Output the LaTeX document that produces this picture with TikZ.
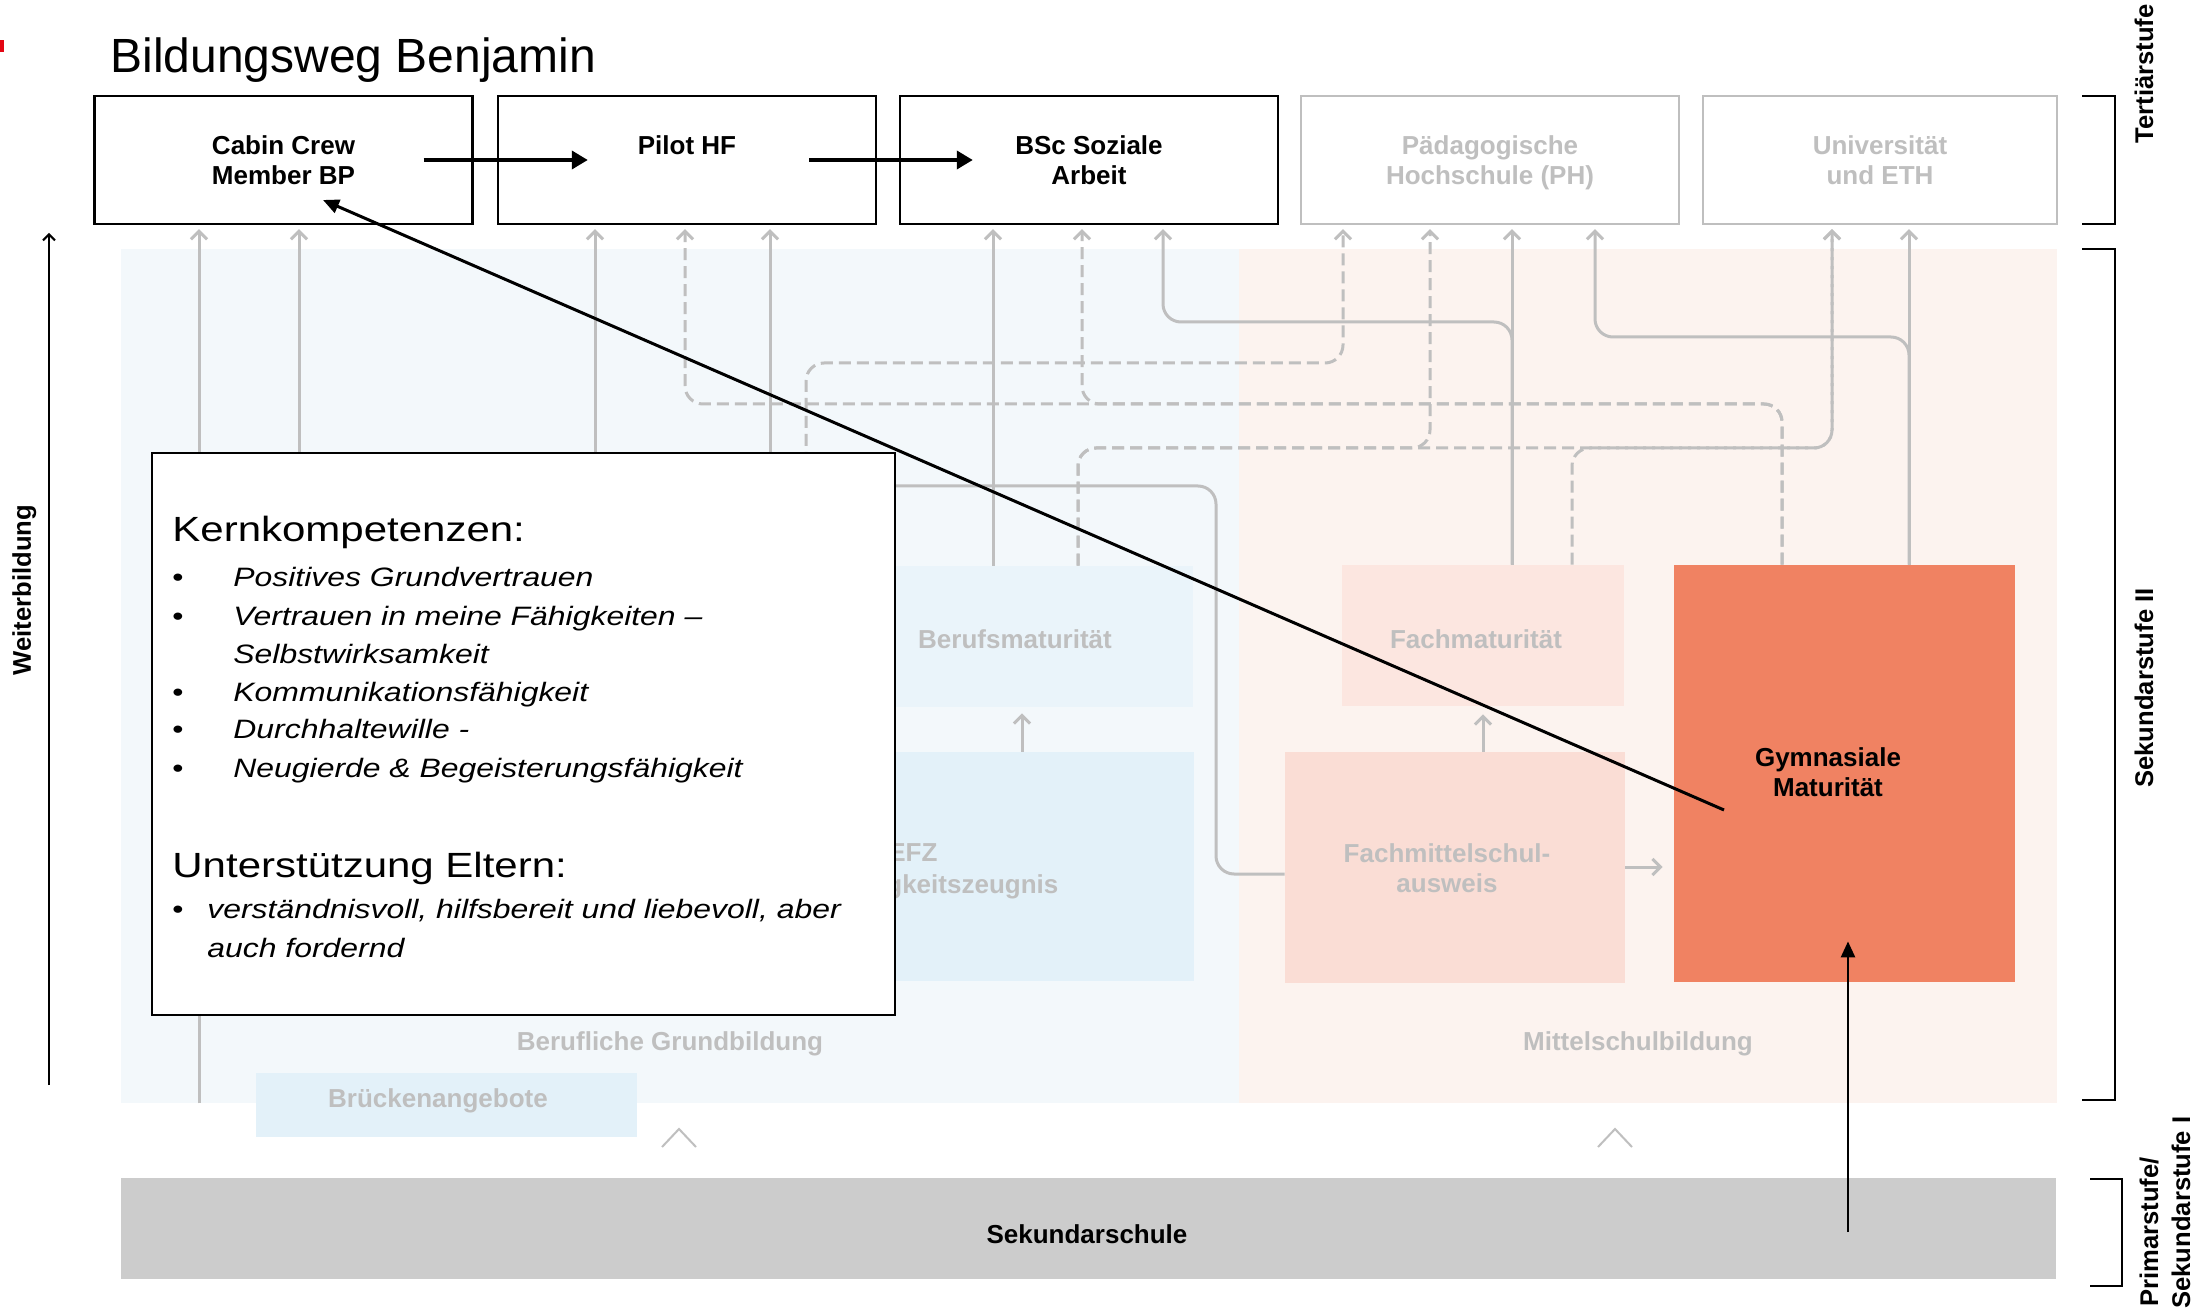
\documentclass[tikz,border=0pt]{standalone}
\usepackage{fontspec}
\setmainfont{Liberation Sans}
\newfontfamily\kfont[FakeStretch=1.2]{Liberation Sans}
\usetikzlibrary{arrows.meta,calc}
\definecolor{bgblue}{HTML}{F3F8FB}
\definecolor{bgpink}{HTML}{FCF3EF}
\definecolor{bmblue}{HTML}{EAF4FA}
\definecolor{efzblue}{HTML}{E3F1F9}
\definecolor{fmpink}{HTML}{FCE6E0}
\definecolor{fmspink}{HTML}{FADDD5}
\definecolor{gymc}{HTML}{F08262}
\definecolor{lgray}{HTML}{BFBFBF}
\definecolor{sekgray}{HTML}{CCCCCC}
\definecolor{markred}{HTML}{E30613}
\begin{document}
\begin{tikzpicture}[x=0.5pt,y=-0.5pt,
  topbox/.style={draw=black,line width=1.2pt,fill=white,minimum width=189pt,minimum height=64pt,inner sep=0pt},
  topboxg/.style={topbox,draw=lgray},
  area/.style={draw=none,inner sep=0pt},
  btxt/.style={font=\fontsize{13pt}{15pt}\selectfont\bfseries,align=center,inner sep=0pt},
  gtxt/.style={btxt,text=lgray},
  rtxt/.style={font=\fontsize{12.8pt}{15pt}\selectfont\bfseries,inner sep=0pt,rotate=90},
  gl/.style={draw=lgray,line width=1.5pt,-{Straight Barb[length=4pt,width=8pt]},shorten >=2pt,rounded corners=9pt},
  gld/.style={gl,dash pattern=on 6pt off 3pt},
  brk/.style={draw=black,line width=1.2pt},
  barrow/.style={draw=black,line width=1.8pt,-{Triangle[length=8pt,width=9pt]}},
  barrowb/.style={draw=black,line width=1.5pt,-{Triangle[length=8pt,width=7pt]}},
  ktxth/.style={font=\kfont\fontsize{17.5pt}{20pt}\selectfont,inner sep=0pt},
  ktxti/.style={font=\kfont\itshape\fontsize{13.3pt}{16pt}\selectfont,inner sep=0pt},
  kbul/.style={font=\kfont\fontsize{13.3pt}{16pt}\selectfont,inner sep=0pt}]
\useasboundingbox (0,0) rectangle (2208,1310);
\fill[white] (0,0) rectangle (2208,1310);
\fill[markred] (0,40) rectangle (4,52);

% title
\node[anchor=base west,inner sep=0pt,font=\fontsize{24pt}{28pt}\selectfont] (title) at (110,73) {Bildungsweg Benjamin};

% background areas
\node[area,fill=bgblue,minimum width=559pt,minimum height=427pt] (bluebg) at (680,676) {};
\node[area,fill=bgpink,minimum width=409pt,minimum height=427pt] (pinkbg) at (1648,676) {};
\node[area,fill=sekgray,minimum width=967.5pt,minimum height=50.5pt] (sekschule) at (1088.5,1228.5) {};
\node[area,fill=efzblue,minimum width=190.5pt,minimum height=32pt] (bruecken) at (446.5,1105) {};
\coordinate (kernmid) at (523.5,734);

% inner boxes
\node[area,fill=bmblue,minimum width=179pt,minimum height=70.5pt] (berufsmat) at (1014,636.5) {};
\node[area,fill=efzblue,minimum width=179.5pt,minimum height=114.5pt] (efz) at (1014.5,866.5) {};
\node[area,fill=fmpink,minimum width=141pt,minimum height=70.5pt] (fachmat) at (1483,635.5) {};
\node[area,fill=fmspink,minimum width=170pt,minimum height=115.5pt] (fms) at (1455,867.5) {};
\node[area,fill=gymc,minimum width=170.5pt,minimum height=208.5pt] (gym) at (1844.5,773.5) {};

% top boxes
\node[topbox] (cabin) at (283.5,160) {};
\node[topbox] (pilot) at (687,160) {};
\node[topbox] (bsc) at (1089,160) {};
\node[topboxg] (ph) at (1490,160) {};
\node[topboxg,minimum width=177pt] (uni) at (1880,160) {};

% grey connectors
\draw[gl] (199,0 |- bluebg.south) -- (199,0 |- cabin.south);
\draw[gl] (299,0 |- kernmid) -- (299,0 |- cabin.south);
\draw[gl] (595,0 |- kernmid) -- (595,0 |- pilot.south);
\draw[gl] (770,0 |- kernmid) -- (770,0 |- pilot.south);
\draw[gl] (993,0 |- berufsmat.north) -- (993,0 |- bsc.south);
\draw[gld] (1782,0 |- gym.north) |- (685,404) -- (685,0 |- pilot.south);
\draw[gld] (1782,0 |- gym.north) |- (1082,404) -- (1082,0 |- bsc.south);
\draw[gl] (1512,0 |- fachmat.north) |- (1163,322) -- (1163,0 |- bsc.south);
\draw[gl] (1512,0 |- fachmat.north) -- (1512,0 |- ph.south);
\draw[gl] (1909,0 |- gym.north) |- (1595,337) -- (1595,0 |- ph.south);
\draw[gl] (1909,0 |- gym.north) -- (1909,0 |- uni.south);
\draw[gld] (806,0 |- kernmid) |- (1343,363) -- (1343,0 |- ph.south);
\draw[gld] (1078,0 |- berufsmat.north) |- (1430,448) -- (1430,0 |- ph.south);
\draw[gld] (1078,0 |- berufsmat.north) |- (1832,448) -- (1832,0 |- uni.south);
\draw[gld] (1572,0 |- fachmat.north) |- (1832,448) -- (1832,0 |- uni.south);
\draw[gl,-,shorten >=0pt] (kernmid |- 0,486) -| (1216,874) -- (fms.west |- 0,874);
\draw[gl,shorten >=3pt] (1022,0 |- efz.north) -- (1022,0 |- berufsmat.south);
\draw[gl,shorten >=4pt] (1483,0 |- fms.north) -- (1483,0 |- fachmat.south);
\draw[gl,shorten >=5.5pt] (fms.east |- 0,867) -- (gym.west |- 0,867);

% chevrons
\draw[lgray,line width=1pt] (662,1147) -- (679,1129) -- (696,1147);
\draw[lgray,line width=1pt] (1598,1147) -- (1615,1129) -- (1632,1147);

% top box texts (base anchor = baseline of last line)
\node[btxt,anchor=base] (cabint) at (283.5,185) {Cabin Crew\\Member BP};
\node[btxt,anchor=base] (pilott) at (687,155) {Pilot HF};
\node[btxt,anchor=base] (bsct) at (1089,185) {BSc Soziale\\Arbeit};
\node[gtxt,anchor=base] (pht) at (1490,185) {Pädagogische\\Hochschule (PH)};
\node[gtxt,anchor=base] (unit) at (1880,185) {Universität\\und ETH};

% inner texts
\node[gtxt,anchor=base] (bmt) at (1015,648) {Berufsmaturität};
\node[gtxt,anchor=base] (fmt) at (1476,648) {Fachmaturität};
\node[gtxt,anchor=base] (fmst) at (1447,892) {Fachmittelschul-\\ausweis};
\node[gtxt,anchor=base west] (efzt1) at (888,861) {EFZ};
\node[gtxt,anchor=base west] (efzt2) at (886,893) {gkeitszeugnis};
\node[btxt,anchor=base] (gymt) at (1828,796) {Gymnasiale\\Maturität};
\node[btxt,anchor=base] (sekt) at (1087,1243) {Sekundarschule};
\node[gtxt,anchor=base] (bgt) at (670,1050) {Berufliche Grundbildung};
\node[gtxt,anchor=base] (mst) at (1638,1050) {Mittelschulbildung};
\node[gtxt,anchor=base] (brt) at (438,1107) {Brückenangebote};

% Kernkompetenzen box
\node[draw=black,line width=1.3pt,fill=white,minimum width=371.5pt,minimum height=281pt,inner sep=0pt] (kern) at (kernmid) {};
\node[ktxth,anchor=base west] (kh1) at (172,542) {Kernkompetenzen:};
\node[kbul,anchor=base west] (b1) at (172,587) {•};
\node[ktxti,anchor=base west] (k1) at (233,587) {Positives Grundvertrauen};
\node[kbul,anchor=base west] (b2) at (172,625) {•};
\node[ktxti,anchor=base west] (k2) at (233,625) {Vertrauen in meine Fähigkeiten –};
\node[ktxti,anchor=base west] (k2b) at (233,663) {Selbstwirksamkeit};
\node[kbul,anchor=base west] (b3) at (172,701) {•};
\node[ktxti,anchor=base west] (k3) at (233,701) {Kommunikationsfähigkeit};
\node[kbul,anchor=base west] (b4) at (172,739) {•};
\node[ktxti,anchor=base west] (k4) at (233,739) {Durchhaltewille -};
\node[kbul,anchor=base west] (b5) at (172,777) {•};
\node[ktxti,anchor=base west] (k5) at (233,777) {Neugierde \& Begeisterungsfähigkeit};
\node[ktxth,anchor=base west] (kh2) at (172,877) {Unterstützung Eltern:};
\node[kbul,anchor=base west] (b6) at (172,918) {•};
\node[ktxti,anchor=base west] (k6) at (207,918) {verständnisvoll, hilfsbereit und liebevoll, aber};
\node[ktxti,anchor=base west] (k6b) at (207,957) {auch fordernd};

% brackets and side labels
\draw[brk] (2082,96) -- (2115,96) -- (2115,224) -- (2082,224);
\draw[brk] (2082,249) -- (2115,249) -- (2115,1100) -- (2082,1100);
\draw[brk] (2090,1179) -- (2122,1179) -- (2122,1286) -- (2090,1286);
\node[rtxt,anchor=base] (tert) at (2153,74) {Tertiärstufe};
\node[rtxt,anchor=base] (sek2) at (2153,688) {Sekundarstufe II};
\node[rtxt,anchor=base west] (prim) at (2158,1307) {Primarstufe/};
\node[rtxt,anchor=base west] (sek1) at (2190,1309) {Sekundarstufe I};
\node[rtxt,anchor=base] (weiter) at (31,590) {Weiterbildung};
\coordinate (wbbot) at (49,1085);
\coordinate (wbtop) at (49,233);
\draw[black,line width=1pt,-{Straight Barb[length=3pt,width=6pt]}] (wbbot) -- (wbtop);

% black arrows
\draw[barrow] ([xshift=-25pt]cabin.east) -- ([xshift=45.5pt]pilot.west);
\draw[barrow] ([xshift=-34pt]pilot.east) -- ([xshift=37pt]bsc.west);
\draw[barrowb] ([xshift=-60.25pt,yshift=-18.25pt]gym.center) -- ([xshift=19.75pt,yshift=-20pt]cabin.center);
\draw[barrowb,line width=1.3pt] ([xshift=379.75pt,yshift=-1.75pt]sekschule.center) -- ([xshift=1.75pt,yshift=20.5pt]gym.south);
\end{tikzpicture}
\end{document}
